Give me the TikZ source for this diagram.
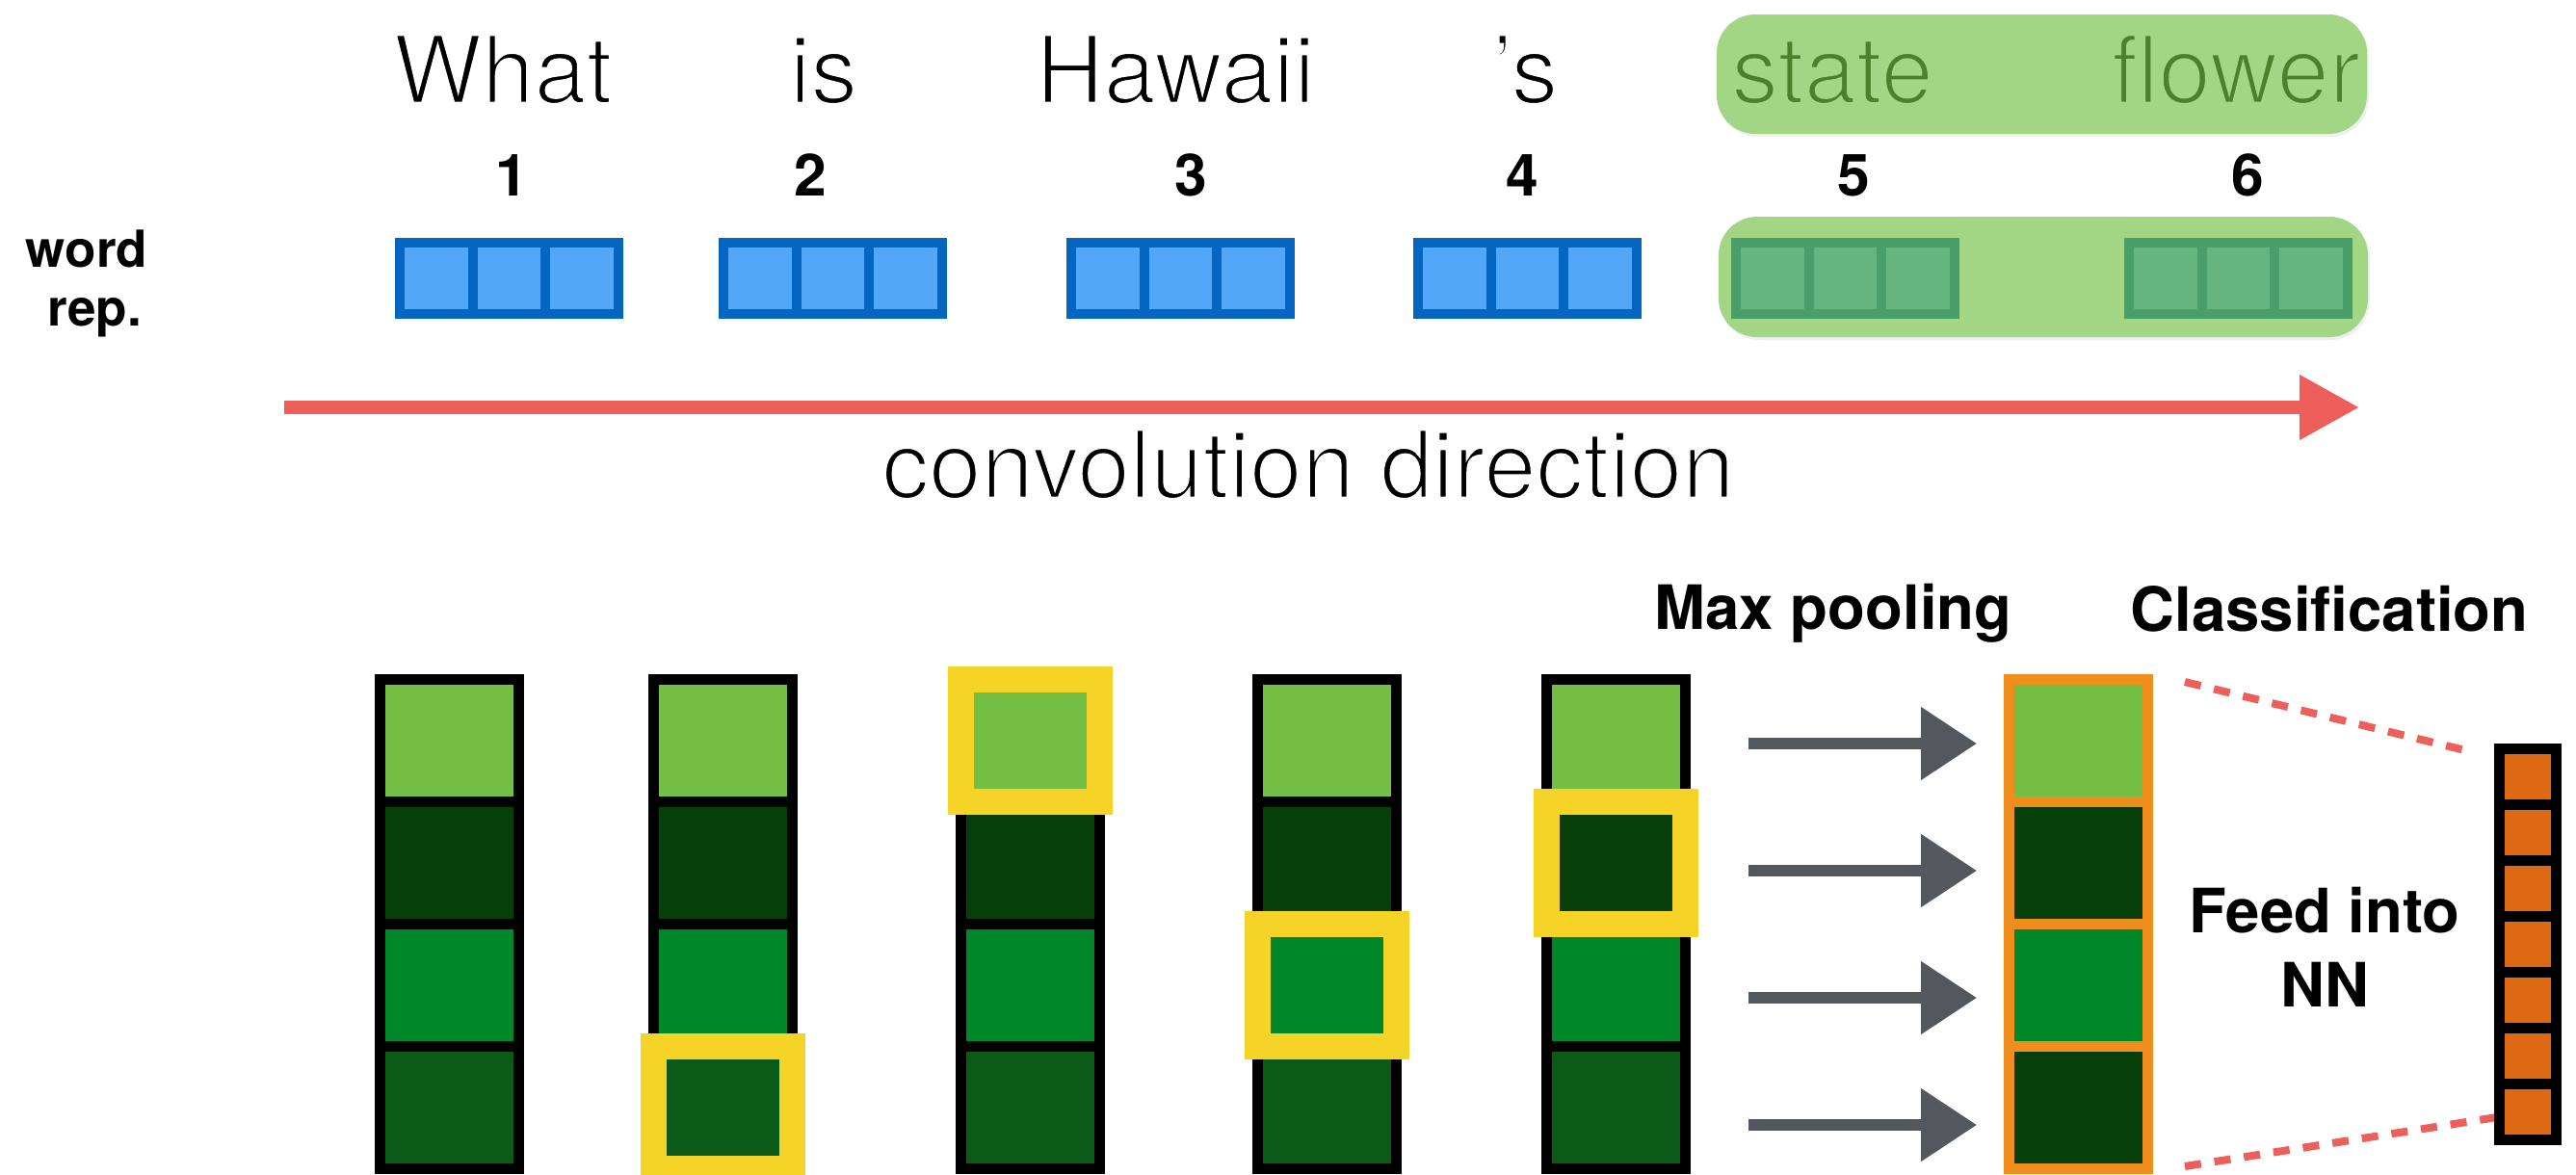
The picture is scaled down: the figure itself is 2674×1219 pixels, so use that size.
\documentclass[tikz,border=0pt]{standalone}
\usepackage{fontspec}
\setmainfont{TeX Gyre Heros}
\usetikzlibrary{arrows.meta,shadows}

\definecolor{blueFill}{HTML}{52A7F8}
\definecolor{blueLine}{HTML}{0566C1}
\definecolor{gcellFill}{HTML}{65B67E}
\definecolor{gcellLine}{HTML}{4A9E6A}
\definecolor{groupGreen}{HTML}{A3D684}
\definecolor{groupText}{HTML}{4E7F2B}
\definecolor{convRed}{HTML}{EE5F5B}
\definecolor{cLight}{HTML}{72BF44}
\definecolor{cDark}{HTML}{063F0A}
\definecolor{cMid}{HTML}{00872A}
\definecolor{cDeep}{HTML}{0C5A18}
\definecolor{hlYellow}{HTML}{F5D327}
\definecolor{poolOrange}{HTML}{F08E1D}
\definecolor{outOrange}{HTML}{DD6A12}
\definecolor{arrowGray}{HTML}{53575E}
\definecolor{dashRed}{HTML}{EC5F5A}

% light-weight look: glyphs are filled, then their outline is stroked
% in the background colour, which thins every stem
\newcommand\thinon[1]{\special{pdf:literal direct 2 Tr 3 w #1 RG}}
\newcommand\thinoff{\special{pdf:literal direct 0 Tr}}
\newcommand\thinw[1]{\thinon{1 1 1}#1\thinoff}
\newcommand\thing[1]{\thinon{0.639 0.839 0.518}#1\thinoff}

% three-cell word vector: left edge, fill, border
\newcommand\wordvec[3]{%
  \foreach \k in {0,1,2}{
    \draw[line width=10pt, draw=#3, fill=#2]
      ({#1+5+75.667*\k},252) rectangle ({#1+5+75.667*(\k+1)},326);
  }}

% four-cell feature column: left edge, border colour, four fills
\newcommand\featcol[6]{%
  \foreach \c [count=\r from 0] in {#3,#4,#5,#6}{
    \draw[line width=11pt, draw=#2, fill=\c]
      ({#1+5.5},{705.5+127*\r}) rectangle ({#1+149.5},{832.5+127*\r});
  }}

% yellow frame around the maximum cell: left edge of column, row (1..4), fill
\newcommand\maxmark[3]{%
  \draw[line width=27pt, draw=hlYellow, fill=#3]
    ({#1+77.5-72},{769+127*(#2-1)-63.5}) rectangle ({#1+77.5+72},{769+127*(#2-1)+63.5});}

\begin{document}
\begin{tikzpicture}[x=1pt,y=-1pt,
  wordtxt/.style={anchor=base, inner sep=0pt, font=\fontsize{97.5}{117}\selectfont},
  numtxt/.style={anchor=base, inner sep=0pt, font=\bfseries\fontsize{60.5}{72}\selectfont},
  sidetxt/.style={anchor=base, inner sep=0pt, font=\bfseries\fontsize{53}{61}\selectfont},
  headtxt/.style={anchor=base, inner sep=0pt, font=\bfseries\fontsize{63.5}{77}\selectfont},
  groupbox/.style={fill=groupGreen, rounded corners=40pt,
    drop shadow={shadow xshift=2pt, shadow yshift=-3pt, opacity=0.12}},
  convarrow/.style={draw=convRed, line width=14pt,
    -{Triangle[length=62pt,width=64pt]}},
  poolarrow/.style={draw=arrowGray, line width=12pt,
    -{Triangle[length=58pt,width=73pt]}},
  fanline/.style={draw=dashRed, line width=8pt, dash pattern=on 17pt off 14pt},
]
\useasboundingbox[fill=white] (0,0) rectangle (2674,1219);

% ---- phrase highlight for "state flower"
\path[groupbox] (1782,15) rectangle (2457,139);
\path[groupbox] (1784,225) rectangle (2458,350);

% ---- words
\node[wordtxt] (w1) at (522,107) {\thinw{What}};
\node[wordtxt] (w2) at (855,107) {\thinw{is}};
\node[wordtxt] (w3) at (1220,107) {\thinw{Hawaii}};
\node[wordtxt] (w4) at (1583,107) {\thinw{’s}};
\node[wordtxt, text=groupText] (w5) at (1902,107) {\thing{state}};
\node[wordtxt, text=groupText] (w6) at (2321,107) {\thing{flower}};

% ---- positions
\node[numtxt] (n1) at (531,203) {1};
\node[numtxt] (n2) at (841,203) {2};
\node[numtxt] (n3) at (1236,203) {3};
\node[numtxt] (n4) at (1580,203) {4};
\node[numtxt] (n5) at (1924,203) {5};
\node[numtxt] (n6) at (2333,203) {6};

% ---- word representations
\node[sidetxt] (wordlbl) at (90,277) {word};
\node[sidetxt] (replbl) at (98,338) {rep.};
\wordvec{410}{blueFill}{blueLine}
\wordvec{746}{blueFill}{blueLine}
\wordvec{1107}{blueFill}{blueLine}
\wordvec{1467}{blueFill}{blueLine}
\wordvec{1797}{gcellFill}{gcellLine}
\wordvec{2205}{gcellFill}{gcellLine}

% ---- convolution direction
\coordinate (convS) at (295,423);
\coordinate (convE) at (2449,423);
\draw[convarrow] (convS) -- (convE);
\node[wordtxt] (convlbl) at (1358,517) {\thinw{convolution direction}};

% ---- feature maps
\featcol{389}{black}{cLight}{cDark}{cMid}{cDeep}
\featcol{673}{black}{cLight}{cDark}{cMid}{cDeep}
\featcol{992}{black}{cLight}{cDark}{cMid}{cDeep}
\featcol{1300}{black}{cLight}{cDark}{cMid}{cDeep}
\featcol{1600}{black}{cLight}{cDark}{cMid}{cDeep}
\maxmark{673}{4}{cDeep}
\maxmark{992}{1}{cLight}
\maxmark{1300}{3}{cMid}
\maxmark{1600}{2}{cDark}

% ---- max pooling
\node[headtxt] (poollbl) at (1903,653) {Max pooling};
\foreach \y [count=\i] in {772,904,1036,1168}{
  \coordinate (pa\i) at (1815,\y);
  \coordinate (pb\i) at (2052,\y);
  \draw[poolarrow] (pa\i) -- (pb\i);
}
\featcol{2080}{poolOrange}{cLight}{cDark}{cMid}{cDark}

% ---- classification
\node[headtxt] (clslbl) at (2418,655) {Classification};
\node[headtxt] (feed1) at (2413,968) {Feed into};
\node[headtxt] (feed2) at (2413,1045) {NN};
\coordinate (fanA) at (2268,708);
\coordinate (fanB) at (2567,781);
\coordinate (fanC) at (2268,1211);
\coordinate (fanD) at (2592,1160);
\draw[fanline] (fanA) -- (fanB);
\draw[fanline] (fanC) -- (fanD);
\foreach \r in {0,...,6}{
  \draw[line width=11pt, draw=black, fill=outOrange]
    (2594.5,{777.5+58*\r}) rectangle (2653.5,{835.5+58*\r});
}
\end{tikzpicture}
\end{document}
